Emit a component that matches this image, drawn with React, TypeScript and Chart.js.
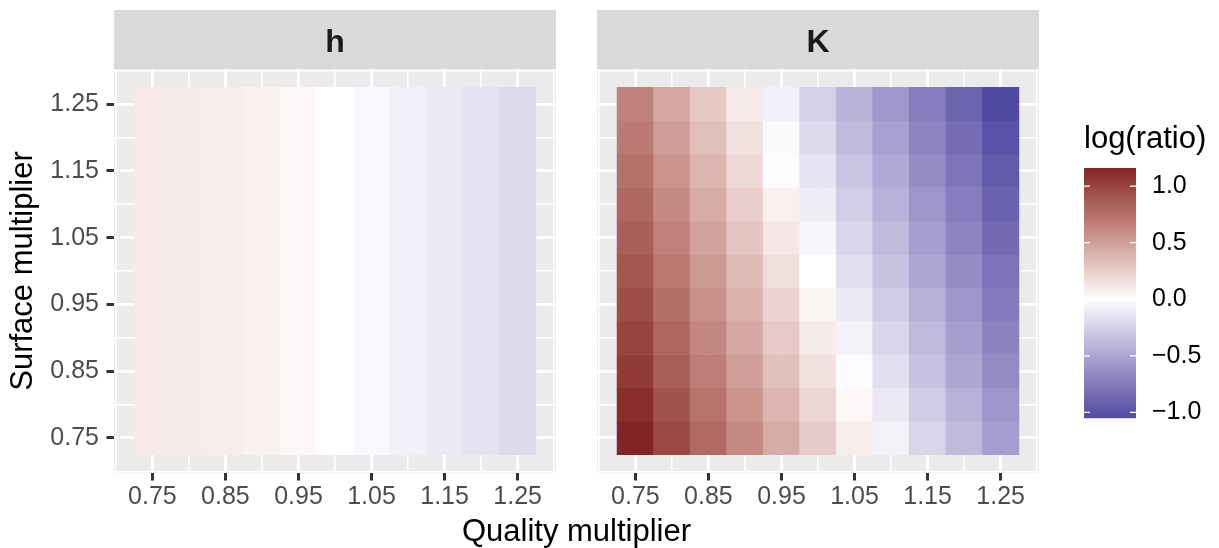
import React, { useEffect, useRef } from "react";
import { Chart, registerables } from "chart.js";

Chart.register(...registerables);

// ---------------- data ----------------
const PANELS = ["h", "K"];
const QUALITY = [0.75, 0.8, 0.85, 0.9, 0.95, 1.0, 1.05, 1.1, 1.15, 1.2, 1.25];
const SURFACE = [0.75, 0.8, 0.85, 0.9, 0.95, 1.0, 1.05, 1.1, 1.15, 1.2, 1.25];
const GRID_BREAKS = [0.7, 0.75, 0.8, 0.85, 0.9, 0.95, 1.0, 1.05, 1.1, 1.15, 1.2, 1.25, 1.3];
const MAJOR_BREAKS = [0.75, 0.85, 0.95, 1.05, 1.15, 1.25];
const MAJOR_LABELS = ["0.75", "0.85", "0.95", "1.05", "1.15", "1.25"];

// h panel: log(ratio) by quality multiplier (same for every surface row)
const H_BY_QUALITY = [0.11, 0.1, 0.09, 0.065, 0.035, 0.0, -0.035, -0.08, -0.12, -0.16, -0.21];

// K panel: rows = SURFACE (0.75 -> 1.25), columns = QUALITY (0.75 -> 1.25)
const K_VALUES = [
  [1.16, 0.97, 0.79, 0.61, 0.43, 0.26, 0.09, -0.07, -0.23, -0.38, -0.54],
  [1.11, 0.92, 0.74, 0.56, 0.38, 0.21, 0.04, -0.12, -0.28, -0.43, -0.59],
  [1.05, 0.86, 0.68, 0.5, 0.32, 0.15, -0.02, -0.18, -0.34, -0.49, -0.65],
  [1.0, 0.81, 0.63, 0.45, 0.27, 0.1, -0.07, -0.23, -0.39, -0.54, -0.7],
  [0.95, 0.76, 0.58, 0.4, 0.22, 0.05, -0.12, -0.28, -0.44, -0.59, -0.75],
  [0.9, 0.71, 0.53, 0.35, 0.17, 0.0, -0.17, -0.33, -0.49, -0.64, -0.8],
  [0.85, 0.66, 0.48, 0.3, 0.12, -0.05, -0.22, -0.38, -0.54, -0.69, -0.85],
  [0.8, 0.61, 0.43, 0.25, 0.07, -0.1, -0.27, -0.43, -0.59, -0.74, -0.9],
  [0.75, 0.56, 0.38, 0.2, 0.02, -0.15, -0.32, -0.48, -0.64, -0.79, -0.95],
  [0.7, 0.51, 0.33, 0.15, -0.03, -0.2, -0.37, -0.53, -0.69, -0.84, -1.0],
  [0.65, 0.46, 0.28, 0.1, -0.08, -0.25, -0.42, -0.58, -0.74, -0.89, -1.05],
];

const LEGEND_BREAKS = [1.0, 0.5, 0.0, -0.5, -1.0];
const LEGEND_LABELS = ["1.0", "0.5", "0.0", "\u22120.5", "\u22121.0"];

const LOW_COLOR = "#3A3A98";
const MID_COLOR = "#FFFFFF";
const HIGH_COLOR = "#832424";

// ---------------- layout / style ----------------
const FONT = "'Liberation Sans', Arial, Helvetica, sans-serif";
const CANVAS_W = 1219;
const CANVAS_H = 548;
const AXIS_MIN = 0.6975;
const AXIS_MAX = 1.3025;
const HALF_TILE = 0.025;
const PANEL_TOP = 69;
const PANEL_BOTTOM = 473;
const STRIP_TOP = 10;
const PANEL_BOXES = [
  { left: 114, right: 556 },
  { left: 597, right: 1039 },
];
const LEG = { left: 1084, width: 52, top: 168, bottom: 418, labelX: 1152, titleY: 148 };

// ---------------- colour scale (ggplot gradient2, Lab interpolation) ----------------
function hexToRgb(hex: string) {
  const h = hex.replace("#", "");
  return [0, 2, 4].map((i) => parseInt(h.slice(i, i + 2), 16));
}
function lin(c: number) {
  const v = c / 255;
  return v <= 0.04045 ? v / 12.92 : Math.pow((v + 0.055) / 1.055, 2.4);
}
function gam(c: number) {
  const v = c <= 0.0031308 ? 12.92 * c : 1.055 * Math.pow(c, 1 / 2.4) - 0.055;
  return Math.round(Math.max(0, Math.min(1, v)) * 255);
}
const EPS = 216 / 24389;
const KAPPA = 24389 / 27;
function rgbToLab(rgb: number[]) {
  const R = lin(rgb[0]), G = lin(rgb[1]), B = lin(rgb[2]);
  const X = (0.4124564 * R + 0.3575761 * G + 0.1804375 * B) / 0.95047;
  const Y = 0.2126729 * R + 0.7151522 * G + 0.072175 * B;
  const Z = (0.0193339 * R + 0.119192 * G + 0.9503041 * B) / 1.08883;
  const f = (t: number) => (t > EPS ? Math.cbrt(t) : (KAPPA * t + 16) / 116);
  return [116 * f(Y) - 16, 500 * (f(X) - f(Y)), 200 * (f(Y) - f(Z))];
}
function labToHex(lab: number[]) {
  const fy = (lab[0] + 16) / 116;
  const fx = fy + lab[1] / 500;
  const fz = fy - lab[2] / 200;
  const inv = (t: number) => (t * t * t > EPS ? t * t * t : (116 * t - 16) / KAPPA);
  const X = inv(fx) * 0.95047, Y = inv(fy), Z = inv(fz) * 1.08883;
  const R = 3.2404542 * X - 1.5371385 * Y - 0.4985314 * Z;
  const G = -0.969266 * X + 1.8760108 * Y + 0.041556 * Z;
  const B = 0.0556434 * X - 0.2040259 * Y + 1.0572252 * Z;
  return `rgb(${gam(R)},${gam(G)},${gam(B)})`;
}
const LAB_LOW = rgbToLab(hexToRgb(LOW_COLOR));
const LAB_MID = rgbToLab(hexToRgb(MID_COLOR));
const LAB_HIGH = rgbToLab(hexToRgb(HIGH_COLOR));

const H_VALUES = SURFACE.map(() => H_BY_QUALITY.slice());
const ALL_VALUES = [...H_VALUES.flat(), ...K_VALUES.flat()];
const DATA_MIN = Math.min(...ALL_VALUES);
const DATA_MAX = Math.max(...ALL_VALUES);
const EXTENT = 2 * Math.max(Math.abs(DATA_MIN), Math.abs(DATA_MAX));

function fillFor(v: number) {
  const t = v / EXTENT + 0.5;
  let a: number[], b: number[], u: number;
  if (t < 0.5) {
    a = LAB_LOW; b = LAB_MID; u = t / 0.5;
  } else {
    a = LAB_MID; b = LAB_HIGH; u = (t - 0.5) / 0.5;
  }
  return labToHex([0, 1, 2].map((i) => a[i] + (b[i] - a[i]) * u));
}

function isMajor(v: number) {
  return MAJOR_BREAKS.some((m) => Math.abs(m - v) < 1e-6);
}
function majorLabel(v: number) {
  const i = MAJOR_BREAKS.findIndex((m) => Math.abs(m - v) < 1e-6);
  return i >= 0 ? MAJOR_LABELS[i] : "";
}

// ---------------- plugins ----------------
const panelBackground = {
  id: "panelBackground",
  beforeDraw(chart: any) {
    const { left, right, top, bottom } = chart.chartArea;
    const ctx = chart.ctx;
    ctx.save();
    ctx.fillStyle = "#EBEBEB";
    ctx.fillRect(left, top, right - left, bottom - top);
    ctx.restore();
  },
};

function stripPlugin(label: string) {
  return {
    id: "strip",
    afterDraw(chart: any) {
      const { left, right, top } = chart.chartArea;
      const ctx = chart.ctx;
      ctx.save();
      ctx.fillStyle = "#D9D9D9";
      ctx.fillRect(left, STRIP_TOP, right - left, top - STRIP_TOP);
      ctx.fillStyle = "#1A1A1A";
      ctx.font = `bold 32px ${FONT}`;
      ctx.textAlign = "center";
      ctx.textBaseline = "alphabetic";
      ctx.fillText(label, (left + right) / 2, 52);
      ctx.restore();
    },
  };
}

const xTitlePlugin = {
  id: "xTitle",
  afterDraw(chart: any) {
    const ctx = chart.ctx;
    ctx.save();
    ctx.fillStyle = "#000000";
    ctx.font = `31px ${FONT}`;
    ctx.textAlign = "center";
    ctx.textBaseline = "alphabetic";
    ctx.fillText("Quality multiplier", (PANEL_BOXES[0].left + PANEL_BOXES[1].right) / 2, 541);
    ctx.restore();
  },
};

const legendPlugin = {
  id: "colourLegend",
  afterDraw(chart: any) {
    const ctx = chart.ctx;
    ctx.save();
    ctx.fillStyle = "#000000";
    ctx.font = `31px ${FONT}`;
    ctx.textAlign = "left";
    ctx.textBaseline = "alphabetic";
    ctx.fillText("log(ratio)", LEG.left, LEG.titleY);
    const h = LEG.bottom - LEG.top;
    for (let py = 0; py < h; py++) {
      const v = DATA_MAX - ((py + 0.5) / h) * (DATA_MAX - DATA_MIN);
      ctx.fillStyle = fillFor(v);
      ctx.fillRect(LEG.left, LEG.top + py, LEG.width, 1.2);
    }
    ctx.font = `25px ${FONT}`;
    ctx.textBaseline = "middle";
    LEGEND_BREAKS.forEach((b, i) => {
      const y = LEG.top + ((DATA_MAX - b) / (DATA_MAX - DATA_MIN)) * h;
      ctx.strokeStyle = "#FFFFFF";
      ctx.lineWidth = 1.2;
      ctx.beginPath();
      ctx.moveTo(LEG.left, y);
      ctx.lineTo(LEG.left + 6, y);
      ctx.moveTo(LEG.left + LEG.width - 6, y);
      ctx.lineTo(LEG.left + LEG.width, y);
      ctx.stroke();
      ctx.fillStyle = "#000000";
      ctx.fillText(LEGEND_LABELS[i], LEG.labelX, y);
    });
    ctx.restore();
  },
};

// ---------------- chart config ----------------
function panelConfig(panelIndex: number, values: number[][], extraPlugins: any[]) {
  const box = PANEL_BOXES[panelIndex];
  const isFirst = panelIndex === 0;
  const cells: any[] = [];
  const colors: string[] = [];
  SURFACE.forEach((s, r) =>
    QUALITY.forEach((q, c) => {
      cells.push({ x: q, y: [s - HALF_TILE, s + HALF_TILE] });
      colors.push(fillFor(values[r][c]));
    })
  );
  const grid = (withTicks: boolean) => ({
    display: true,
    color: "#FFFFFF",
    lineWidth: (ctx: any) => (ctx.tick && isMajor(ctx.tick.value) ? 3 : 1.5),
    offset: false,
    drawOnChartArea: true,
    drawTicks: withTicks,
    tickLength: 7.5,
    tickWidth: 3,
    tickColor: (ctx: any) => (ctx.tick && isMajor(ctx.tick.value) ? "#333333" : "rgba(0,0,0,0)"),
  });
  const setTicks = (s: any) => {
    s.ticks = GRID_BREAKS.map((v) => ({ value: v }));
  };
  return {
    type: "bar",
    data: {
      datasets: [
        {
          label: PANELS[panelIndex],
          data: cells,
          backgroundColor: colors,
          borderWidth: 0,
          barPercentage: 1,
          categoryPercentage: 1,
        },
      ],
    },
    options: {
      responsive: false,
      maintainAspectRatio: false,
      devicePixelRatio: 1,
      animation: false,
      events: [],
      layout: {
        padding: {
          left: isFirst ? 0 : box.left,
          right: CANVAS_W - box.right,
          top: PANEL_TOP,
          bottom: 0,
        },
      },
      plugins: { legend: { display: false }, tooltip: { enabled: false }, title: { display: false } },
      scales: {
        x: {
          type: "linear",
          min: AXIS_MIN,
          max: AXIS_MAX,
          bounds: "data",
          offset: false,
          afterBuildTicks: setTicks,
          afterFit: (s: any) => {
            s.height = CANVAS_H - PANEL_BOTTOM;
          },
          ticks: {
            autoSkip: false,
            maxRotation: 0,
            minRotation: 0,
            padding: 2,
            color: "#4D4D4D",
            font: { family: FONT, size: 25 },
            callback: (v: any) => majorLabel(Number(v)),
          },
          grid: grid(true),
          border: { display: false },
        },
        y: {
          type: "linear",
          min: AXIS_MIN,
          max: AXIS_MAX,
          bounds: "data",
          offset: false,
          beginAtZero: false,
          afterBuildTicks: setTicks,
          afterFit: (s: any) => {
            s.width = isFirst ? box.left : 0;
          },
          ticks: {
            display: isFirst,
            autoSkip: false,
            padding: 7.5,
            color: "#4D4D4D",
            font: { family: FONT, size: 25 },
            callback: (v: any) => majorLabel(Number(v)),
          },
          grid: grid(isFirst),
          border: { display: false },
          title: {
            display: isFirst,
            text: "Surface multiplier",
            color: "#000000",
            font: { family: FONT, size: 31 },
            padding: { top: 4.5, bottom: 0 },
          },
        },
      },
    },
    plugins: [panelBackground, stripPlugin(PANELS[panelIndex]), ...extraPlugins],
  } as any;
}

export default function App() {
  const leftRef = useRef<HTMLCanvasElement>(null);
  const rightRef = useRef<HTMLCanvasElement>(null);

  useEffect(() => {
    const c1 = new Chart(leftRef.current as HTMLCanvasElement, panelConfig(0, H_VALUES, []));
    const c2 = new Chart(
      rightRef.current as HTMLCanvasElement,
      panelConfig(1, K_VALUES, [xTitlePlugin, legendPlugin])
    );
    return () => {
      c1.destroy();
      c2.destroy();
    };
  }, []);

  const canvasStyle: React.CSSProperties = { position: "absolute", left: 0, top: 0 };
  return (
    <div
      style={{
        position: "absolute",
        left: 0,
        top: 0,
        width: CANVAS_W,
        height: CANVAS_H,
        background: "#FFFFFF",
      }}
    >
      <canvas ref={leftRef} width={CANVAS_W} height={CANVAS_H} style={canvasStyle} />
      <canvas ref={rightRef} width={CANVAS_W} height={CANVAS_H} style={canvasStyle} />
    </div>
  );
}
